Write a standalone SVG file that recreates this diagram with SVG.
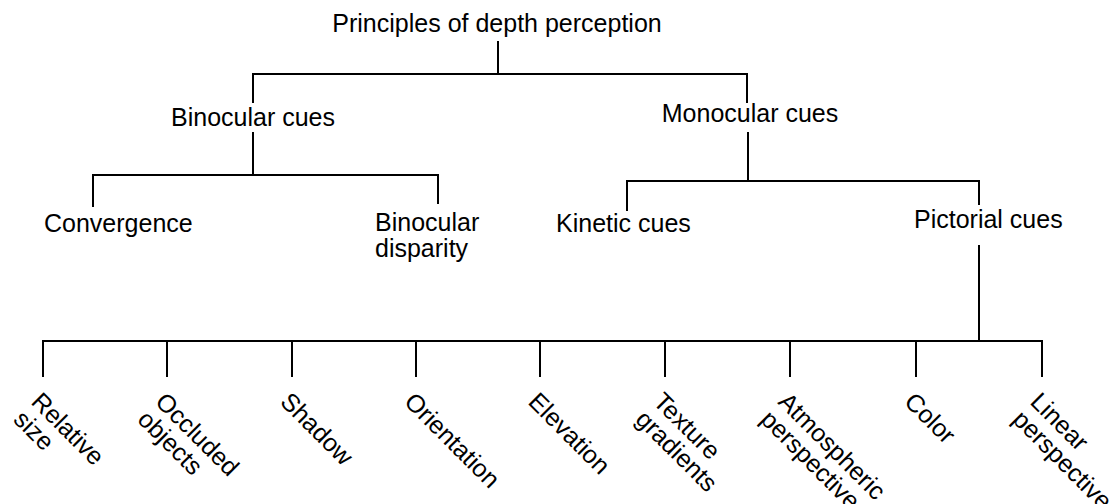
<svg xmlns="http://www.w3.org/2000/svg" width="1120" height="504" viewBox="0 0 1120 504">
<style>
  text { font-family: "Liberation Sans", Arial, Helvetica, sans-serif; font-size: 25px; fill: #000; }
  .c line { stroke: #000; stroke-width: 2; stroke-linecap: square; }
</style>
<rect width="1120" height="504" fill="#fff"/>
<g id="connectors" class="c">
  <line x1="498" y1="42" x2="498" y2="74"/>
  <line x1="253" y1="74" x2="747" y2="74"/>
  <line x1="253" y1="74" x2="253" y2="102"/>
  <line x1="747" y1="74" x2="747" y2="102"/>
  <line x1="253" y1="133" x2="253" y2="175"/>
  <line x1="93" y1="175" x2="438" y2="175"/>
  <line x1="93" y1="175" x2="93" y2="206"/>
  <line x1="438" y1="175" x2="438" y2="203"/>
  <line x1="748" y1="133" x2="748" y2="181"/>
  <line x1="627" y1="181" x2="979" y2="181"/>
  <line x1="627" y1="181" x2="627" y2="210"/>
  <line x1="979" y1="181" x2="979" y2="204"/>
  <line x1="979" y1="246" x2="979" y2="341"/>
  <line x1="43" y1="341" x2="1042" y2="341"/>
  <line x1="43" y1="341" x2="43" y2="376"/>
  <line x1="167" y1="341" x2="167" y2="376"/>
  <line x1="292" y1="341" x2="292" y2="376"/>
  <line x1="416" y1="341" x2="416" y2="376"/>
  <line x1="540" y1="341" x2="540" y2="376"/>
  <line x1="665" y1="341" x2="665" y2="376"/>
  <line x1="790" y1="341" x2="790" y2="376"/>
  <line x1="916" y1="341" x2="916" y2="376"/>
  <line x1="1042" y1="341" x2="1042" y2="376"/>
</g>
<g id="root"><text x="497" y="32" text-anchor="middle">Principles of depth perception</text></g>
<g id="binocular"><text x="253" y="126" text-anchor="middle">Binocular cues</text></g>
<g id="monocular"><text x="750" y="122" text-anchor="middle">Monocular cues</text></g>
<g id="convergence"><text x="44" y="232">Convergence</text></g>
<g id="disparity"><text x="375" y="231">Binocular<tspan x="375" y="257">disparity</tspan></text></g>
<g id="kinetic"><text x="556" y="232">Kinetic cues</text></g>
<g id="pictorial"><text x="914" y="228">Pictorial cues</text></g>
<g id="relative-size"><text transform="translate(30,403) rotate(45)">Relative<tspan x="0" y="25">size</tspan></text></g>
<g id="occluded"><text transform="translate(154,403) rotate(45)">Occluded<tspan x="0" y="25">objects</tspan></text></g>
<g id="shadow"><text transform="translate(279,403) rotate(45)">Shadow</text></g>
<g id="orientation"><text transform="translate(403,403) rotate(45)">Orientation</text></g>
<g id="elevation"><text transform="translate(527,403) rotate(45)">Elevation</text></g>
<g id="texture"><text transform="translate(652,403) rotate(45)">Texture<tspan x="0" y="25">gradients</tspan></text></g>
<g id="atmospheric"><text transform="translate(777,403) rotate(45)">Atmospheric<tspan x="0" y="25">perspective</tspan></text></g>
<g id="color"><text transform="translate(903,403) rotate(45)">Color</text></g>
<g id="linear"><text transform="translate(1029,403) rotate(45)">Linear<tspan x="0" y="25">perspective</tspan></text></g>
</svg>
